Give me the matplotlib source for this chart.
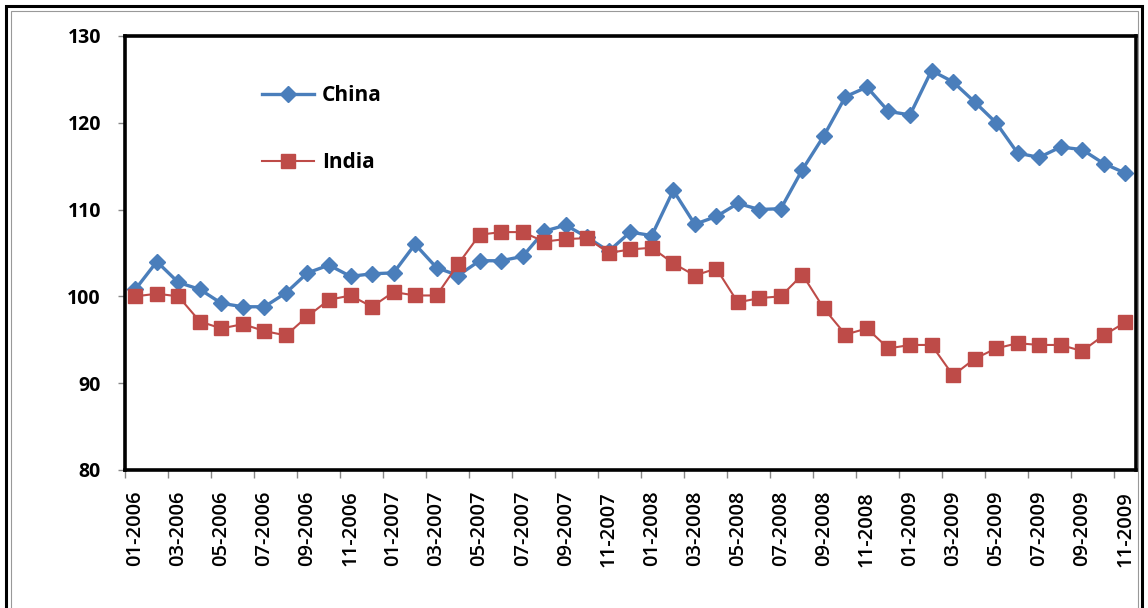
import matplotlib
matplotlib.use('Agg')
import matplotlib.pyplot as plt
from matplotlib.patches import Rectangle
import numpy as np

months = []
for yr in [2006, 2007, 2008, 2009]:
    for m in range(1, 13):
        months.append('{:02d}-{}'.format(m, yr))
months = months[:47]  # 01-2006 .. 11-2009

china = [100.8, 104.0, 101.6, 100.8, 99.2, 98.8, 98.8, 100.4, 102.7, 103.6, 102.3, 102.6,
         102.7, 106.0, 103.3, 102.4, 104.1, 104.1, 104.6, 107.5, 108.2, 106.8, 105.2, 107.4,
         107.0, 112.2, 108.3, 109.2, 110.7, 110.0, 110.1, 114.6, 118.5, 123.0, 124.1, 121.3,
         120.9, 126.0, 124.7, 122.4, 120.0, 116.5, 116.0, 117.2, 116.9, 115.3, 114.2]
india = [100.0, 100.3, 100.0, 97.1, 96.3, 96.8, 96.0, 95.5, 97.7, 99.6, 100.1, 98.8,
         100.5, 100.1, 100.1, 103.7, 107.1, 107.4, 107.4, 106.3, 106.6, 106.7, 105.0, 105.4,
         105.6, 103.8, 102.4, 103.2, 99.3, 99.8, 100.0, 102.5, 98.6, 95.6, 96.3, 94.0,
         94.4, 94.4, 90.9, 92.8, 94.0, 94.6, 94.4, 94.4, 93.7, 95.5, 97.0]
yticks = [80, 90, 100, 110, 120, 130]

plt.rcParams['font.family'] = ['Open Sans', 'DejaVu Sans']

fig = plt.figure(figsize=(11.48, 6.08), dpi=100)
ax = fig.add_axes([0.1085, 0.227, 0.881, 0.714])

x = np.arange(len(months))
ax.plot(x, china, color='#4A7EBB', lw=2.4, marker='D', markersize=8, label='China')
ax.plot(x, india, color='#BE4B48', lw=1.5, marker='s', markersize=9.5, label='India')

ax.set_xlim(-0.5, len(months) - 0.5)
ax.set_ylim(80, 130)
ax.set_yticks(yticks)
ax.set_yticklabels([str(v) for v in yticks], fontsize=14, fontweight='bold')

# ticks sit between months, labels on every other month
ax.set_xticks(np.arange(-0.5, len(months) - 0.5, 2))
ax.set_xticklabels([])
ax.set_xticks(x[::2], minor=True)
ax.set_xticklabels(months[::2], minor=True, rotation=90, fontsize=14.5, fontweight='semibold')
ax.tick_params(axis='x', which='major', direction='out', length=6, color='#888888', width=1)
ax.tick_params(axis='x', which='minor', length=0, pad=15)
ax.tick_params(axis='y', direction='out', length=5, color='#888888', width=1, pad=12)

for s in ax.spines.values():
    s.set_linewidth(2.6)
    s.set_color('black')

leg = ax.legend(loc='upper left', bbox_to_anchor=(0.117, 0.93), frameon=False,
                prop={'weight': 'bold', 'size': 15}, handlelength=2.5,
                labelspacing=2.2, handletextpad=0.4)

# outer frame around the whole picture
fig.patches.append(Rectangle((0.005, -0.02), 0.99, 1.01, transform=fig.transFigure,
                             fill=False, edgecolor='black', lw=2.2))
fig.patches.append(Rectangle((0.0095, -0.02), 0.982, 1.002, transform=fig.transFigure,
                             fill=False, edgecolor='#999999', lw=0.8))

fig.savefig('out.png', dpi=100)
